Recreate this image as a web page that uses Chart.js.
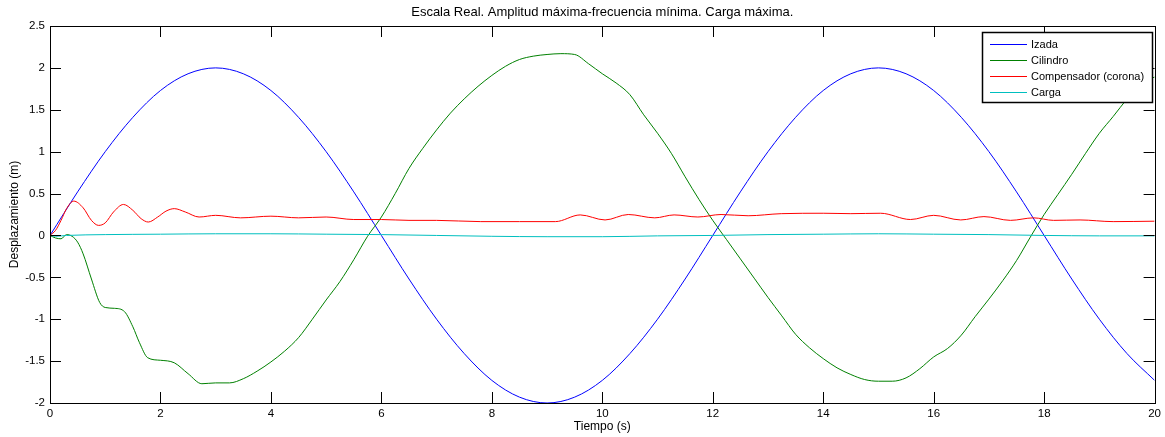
<!DOCTYPE html>
<html>
<head>
<meta charset="utf-8">
<script src="https://cdn.jsdelivr.net/npm/chart.js@4/dist/chart.umd.min.js"></script>
<style>
  body { margin: 0; background: #fff; }
  #grafica { display: block; }
</style>
</head>
<body>
<canvas id="grafica" width="1165" height="437"></canvas>
<script>
// Izada: desplazamiento del gancho (m) cada 0.5 s
var tIzada = [0, 0.5, 1, 1.5, 2, 2.5, 3, 3.5, 4, 4.5, 5, 5.5, 6, 6.5, 7, 7.5, 8, 8.5, 9, 9.5,
    10, 10.5, 11, 11.5, 12, 12.5, 13, 13.5, 14, 14.5, 15, 15.5, 16, 16.5, 17, 17.5, 18, 18.5, 19, 19.5, 20];
var izada = [0, 0.52, 1.00, 1.41, 1.73, 1.93, 2.00, 1.93, 1.73, 1.41, 1.00, 0.52, 0,
    -0.52, -1.00, -1.41, -1.73, -1.93, -2.00, -1.93, -1.73, -1.41, -1.00, -0.52, 0,
    0.52, 1.00, 1.41, 1.73, 1.93, 2.00, 1.93, 1.73, 1.41, 1.00, 0.52, 0,
    -0.52, -1.00, -1.41, -1.73];

// Cilindro
var tCilindro = [0, 0.1, 0.2, 0.3, 0.4, 0.5, 0.6, 0.75, 0.9, 1.0, 1.17, 1.35, 1.5, 1.62, 1.77, 2.0, 2.25, 2.5, 2.75,
    3.0, 3.25, 3.5, 3.75, 4.0, 4.25, 4.5, 4.75, 5.0, 5.25, 5.5, 5.75, 6.0, 6.25, 6.5, 6.75, 7.0, 7.25, 7.5, 7.75,
    8.0, 8.25, 8.5, 8.75, 9.0, 9.25, 9.5, 9.75, 10.0, 10.25, 10.5, 10.75, 11.0, 11.25, 11.5, 11.75,
    12.0, 12.25, 12.5, 12.75, 13.0, 13.25, 13.5, 13.75, 14.0, 14.25, 14.5, 14.75, 15.0, 15.25, 15.5, 15.75,
    16.0, 16.25, 16.5, 16.75, 17.0, 17.25, 17.5, 17.75, 18.0, 18.25, 18.5, 18.75, 19.0, 19.25, 19.5, 19.75, 20.0];
var cilindro = [0, -0.03, -0.04, 0.01, -0.01, -0.08, -0.22, -0.52, -0.80, -0.86, -0.87, -0.91, -1.09, -1.28, -1.46, -1.49, -1.52, -1.65, -1.77,
    -1.76, -1.76, -1.71, -1.62, -1.51, -1.38, -1.22, -1.00, -0.77, -0.55, -0.29, -0.01, 0.22, 0.50, 0.80, 1.04, 1.26, 1.46, 1.63, 1.78,
    1.91, 2.02, 2.10, 2.14, 2.16, 2.17, 2.16, 2.05, 1.93, 1.82, 1.68, 1.44, 1.22, 0.98, 0.70, 0.43,
    0.18, -0.05, -0.28, -0.51, -0.74, -0.96, -1.18, -1.34, -1.47, -1.58, -1.66, -1.72, -1.74, -1.74, -1.70, -1.59,
    -1.45, -1.35, -1.19, -0.97, -0.76, -0.54, -0.30, -0.02, 0.25, 0.49, 0.73, 0.98, 1.22, 1.42, 1.63, 1.82, 1.89];

// Compensador (corona)
var tCompensador = [0, 0.1, 0.2, 0.3, 0.43, 0.6, 0.75, 0.88, 1.0, 1.15, 1.33, 1.5, 1.65, 1.78, 1.95, 2.1, 2.25, 2.45, 2.7,
    3.0, 3.45, 4.0, 4.5, 5.0, 5.5, 6.0, 6.5, 7.0, 7.8, 8.5, 9.15, 9.6, 10.05, 10.47, 10.95, 11.3, 11.73, 12.15, 12.64,
    13.24, 14.0, 14.5, 15.04, 15.58, 16.0, 16.49, 16.91, 17.39, 17.81, 18.17, 18.65, 19.25, 20];
var compensador = [0, 0.06, 0.18, 0.32, 0.41, 0.33, 0.18, 0.12, 0.15, 0.28, 0.37, 0.30, 0.20, 0.16, 0.22, 0.29, 0.32, 0.28, 0.22,
    0.24, 0.21, 0.23, 0.21, 0.22, 0.19, 0.19, 0.18, 0.18, 0.165, 0.165, 0.165, 0.245, 0.185, 0.25, 0.21, 0.245, 0.22, 0.25, 0.235,
    0.26, 0.265, 0.26, 0.265, 0.19, 0.24, 0.185, 0.225, 0.18, 0.21, 0.18, 0.185, 0.165, 0.17];

// Carga
var tCarga = [0, 0.1, 0.3, 1, 2, 3, 4, 5, 6, 7, 8, 9, 10, 11, 12, 13, 14, 15, 16, 17, 18, 19, 20];
var carga = [0, -0.01, 0, 0.01, 0.015, 0.02, 0.02, 0.015, 0.01, 0, -0.01, -0.015, -0.015, -0.005, 0, 0.01, 0.015, 0.02, 0.015, 0.01, 0, -0.005, -0.005];

var ticksX = [0, 2, 4, 6, 8, 10, 12, 14, 16, 18, 20];
var ticksY = [-2, -1.5, -1, -0.5, 0, 0.5, 1, 1.5, 2, 2.5];

var fuente = '"Liberation Sans", Arial, sans-serif';

var puntos = function (t, v) {
    return t.map(function (x, i) { return { x: x, y: v[i] }; });
};

var serie = function (label, color, t, v, orden) {
    return {
        label: label,
        data: puntos(t, v),
        borderColor: color,
        backgroundColor: color,
        borderWidth: 1,
        pointRadius: 0,
        fill: false,
        cubicInterpolationMode: 'monotone',
        order: orden
    };
};

// caja de ejes con marcas hacia dentro y leyenda recuadrada
var marco = {
    id: 'marco',
    afterDraw: function (chart) {
        var ctx = chart.ctx;
        var a = chart.chartArea;
        var sx = chart.scales.x, sy = chart.scales.y;
        var largo = 11;
        ctx.save();
        ctx.strokeStyle = '#000';
        ctx.lineWidth = 1;
        ctx.beginPath();
        ticksX.forEach(function (v) {
            var px = Math.round(sx.getPixelForValue(v)) + 0.5;
            ctx.moveTo(px, a.bottom); ctx.lineTo(px, a.bottom - largo);
            ctx.moveTo(px, a.top); ctx.lineTo(px, a.top + largo);
        });
        ticksY.forEach(function (v) {
            var py = Math.round(sy.getPixelForValue(v)) + 0.5;
            ctx.moveTo(a.left, py); ctx.lineTo(a.left + largo, py);
            ctx.moveTo(a.right, py); ctx.lineTo(a.right - largo, py);
        });
        ctx.stroke();
        ctx.strokeRect(Math.round(a.left) + 0.5, Math.round(a.top) + 0.5,
            Math.round(a.right - a.left), Math.round(a.bottom - a.top));

        // leyenda
        var lx = 982, ly = 32, lw = 170, lh = 70;
        ctx.fillStyle = '#fff';
        ctx.fillRect(lx, ly, lw, lh);
        ctx.lineWidth = 1.5;
        ctx.strokeRect(lx + 0.5, ly + 0.5, lw, lh);
        ctx.font = '11px ' + fuente;
        ctx.textBaseline = 'middle';
        chart.data.datasets.forEach(function (ds, i) {
            var yy = Math.round(ly + 11.5 + i * 16.3) + 0.5;
            ctx.strokeStyle = ds.borderColor;
            ctx.lineWidth = 1;
            ctx.beginPath();
            ctx.moveTo(990, yy); ctx.lineTo(1027, yy);
            ctx.stroke();
            ctx.fillStyle = '#000';
            ctx.fillText(ds.label, 1031, yy);
        });
        ctx.restore();
    }
};

new Chart(document.getElementById('grafica'), {
    type: 'line',
    data: {
        datasets: [
            serie('Izada', 'rgb(0,0,255)', tIzada, izada, 4),
            serie('Cilindro', 'rgb(0,128,0)', tCilindro, cilindro, 3),
            serie('Compensador (corona)', 'rgb(255,0,0)', tCompensador, compensador, 2),
            serie('Carga', 'rgb(0,191,191)', tCarga, carga, 1)
        ]
    },
    options: {
        responsive: false,
        animation: false,
        devicePixelRatio: 1,
        layout: { padding: { top: 0, right: 7, left: 0, bottom: 0 } },
        plugins: {
            legend: { display: false },
            tooltip: { enabled: false },
            title: {
                display: true,
                fullSize: false,
                text: 'Escala Real. Amplitud máxima-frecuencia mínima. Carga máxima.',
                color: '#000',
                font: { family: fuente, size: 13, weight: 'normal', lineHeight: 1 },
                padding: { top: 6, bottom: 7 }
            }
        },
        scales: {
            x: {
                type: 'linear',
                min: 0,
                max: 20,
                afterFit: function (s) { s.height = 34; },
                afterBuildTicks: function (s) { s.ticks = ticksX.map(function (v) { return { value: v }; }); },
                grid: { display: false, drawTicks: false },
                border: { display: false },
                ticks: {
                    color: '#000',
                    padding: 4,
                    maxRotation: 0,
                    font: { family: fuente, size: 11.5 },
                    callback: function (v) { return String(v); }
                },
                title: {
                    display: true,
                    text: 'Tiempo (s)',
                    color: '#000',
                    font: { family: fuente, size: 12 },
                    padding: { top: 0, bottom: 3 }
                }
            },
            y: {
                min: -2,
                max: 2.5,
                afterFit: function (s) { s.width = 50; },
                afterBuildTicks: function (s) { s.ticks = ticksY.map(function (v) { return { value: v }; }); },
                grid: { display: false, drawTicks: false },
                border: { display: false },
                ticks: {
                    color: '#000',
                    padding: 5,
                    font: { family: fuente, size: 11.5 },
                    callback: function (v) { return String(v); }
                },
                title: {
                    display: true,
                    text: 'Desplazamiento (m)',
                    color: '#000',
                    font: { family: fuente, size: 12 },
                    padding: { top: 7, bottom: 0 }
                }
            }
        }
    },
    plugins: [marco]
});
</script>
</body>
</html>
